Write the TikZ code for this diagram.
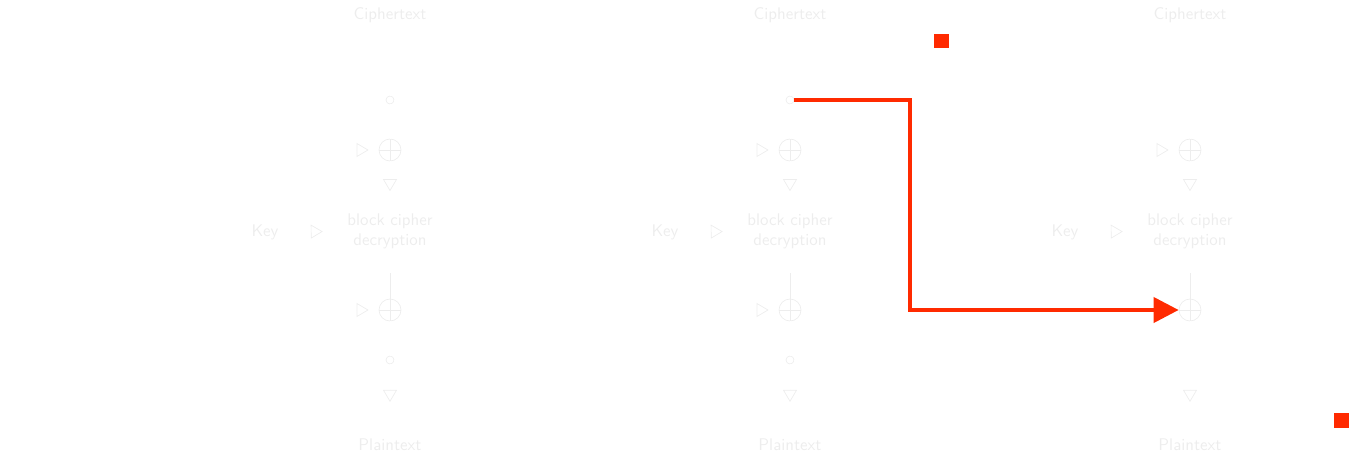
\documentclass[tikz,border=0pt]{standalone}
\usepackage{amsmath,amssymb}
\usetikzlibrary{arrows.meta,positioning}
\definecolor{hotred}{RGB}{255,42,0}
\colorlet{faint}{black!7}
\begin{document}
\begin{tikzpicture}[x=0.02cm, y=-0.02cm,
    lbl/.style={font=\sffamily\fontsize{9.6}{11.5}\selectfont, text=faint, align=center, inner sep=1pt},
    xorop/.style={draw=faint, circle, minimum size=0.44cm, inner sep=0pt,
      path picture={\draw[faint] (path picture bounding box.north) -- (path picture bounding box.south)
        (path picture bounding box.west) -- (path picture bounding box.east);}},
    junc/.style={draw=faint, circle, minimum size=0.16cm, inner sep=0pt},
    wire/.style={draw=white},
    stem/.style={draw=faint},
    flow/.style={-{Triangle[open, length=0.24cm, width=0.28cm, color=faint]}, draw=white, shorten >=0.2cm},
    hot/.style={-{Triangle[length=0.5cm, width=0.5cm]}, draw=hotred, line width=0.08cm},
    markbox/.style={fill=hotred, minimum size=0.3cm, inner sep=0pt}
]
    \useasboundingbox (0,0) rectangle (1353,463);

    % three decryption stages
    \foreach \i/\cx in {1/390, 2/790, 3/1190} {
        \node[lbl] (ct\i) at (\cx,15) {Ciphertext};
        \node[xorop] (xa\i) at (\cx,150) {};
        \node[lbl] (dec\i) at (\cx,231) {block cipher\\decryption};
        \node[lbl] (key\i) at (\cx-125,232) {Key};
        \node[xorop] (xb\i) at (\cx,310) {};
        \node[lbl] (pt\i) at (\cx,445) {Plaintext};

        \draw[flow, shorten >=0.4cm] (xa\i) -- (dec\i);
        \draw[flow, shorten >=0.45cm] (key\i) -- (dec\i);
        \draw[stem, shorten <=0.45cm] (dec\i) -- (xb\i);
    }

    % junctions of the first two stages
    \foreach \i/\cx in {1/390, 2/790} {
        \node[junc] (jt\i) at (\cx,100) {};
        \node[junc] (jb\i) at (\cx,360) {};
        \draw[wire] (ct\i) -- (jt\i) -- (xa\i);
        \draw[wire] (xb\i) -- (jb\i);
        \draw[flow, shorten >=0.7cm] (jb\i) -- (pt\i);
    }
    \draw[wire] (ct3) -- (xa3);
    \draw[flow, shorten >=0.7cm] (xb3) -- (pt3);

    % chaining
    \coordinate (ina1) at (0,150);
    \coordinate (inb1) at (0,310);
    \draw[flow] (ina1) -- (xa1);
    \draw[flow] (inb1) -- (xb1);
    \draw[flow] (jt1) -- (510,100) |- (xb2);
    \draw[flow] (jb1) -- (550,360) |- (xa2);
    \draw[flow] (jb2) -- (950,360) |- (xa3);

    % highlighted path
    \draw[hot] (jt2.east) -- (910,100) |- (xb3.west);

    \node[markbox] (mk1) at (941,41) {};
    \node[markbox] (mk2) at (1341,420) {};
\end{tikzpicture}
\end{document}
